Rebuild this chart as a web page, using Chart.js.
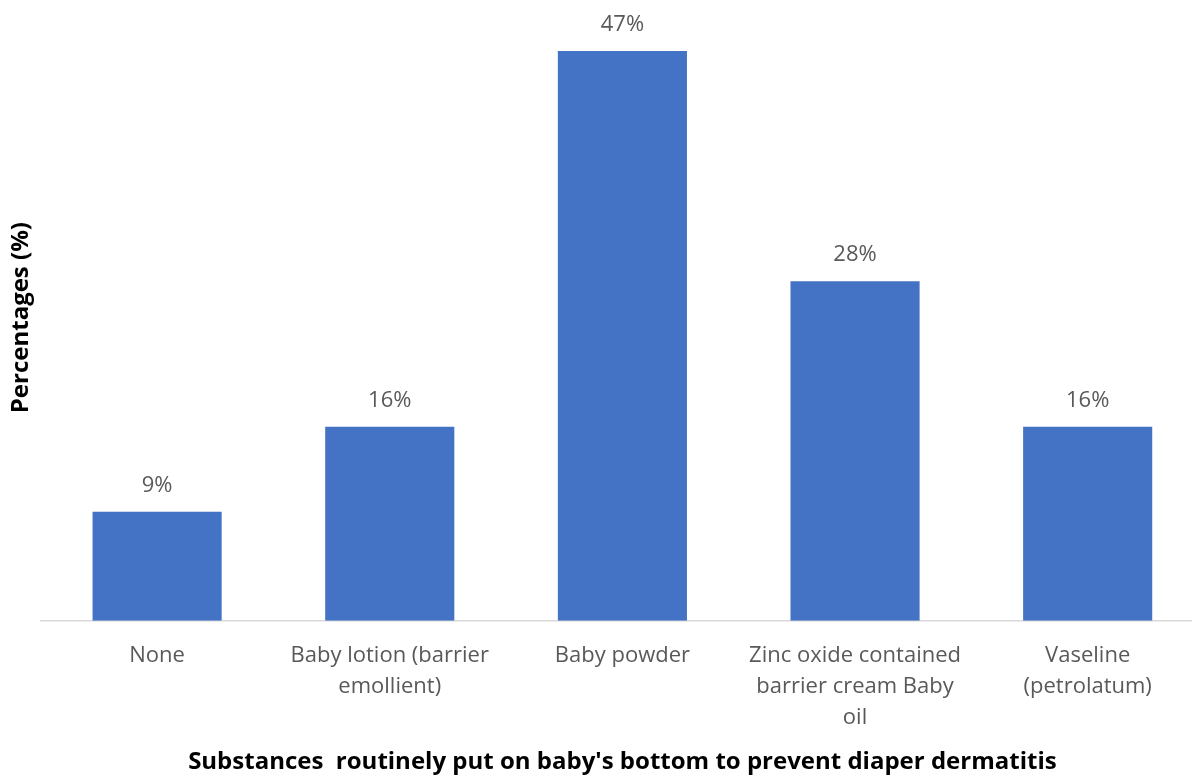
<!DOCTYPE html>
<html>
<head>
<meta charset="utf-8">
<script src="https://cdn.jsdelivr.net/npm/chart.js@4/dist/chart.umd.min.js"></script>
<style>
  html, body { margin: 0; padding: 0; background: #fff; overflow: hidden; }
  #wrap { width: 1204px; height: 778px; }
</style>
</head>
<body>
<div id="wrap"><canvas id="c" width="1204" height="778"></canvas></div>
<script>
const categories = [
  'None',
  ['Baby lotion (barrier', 'emollient)'],
  'Baby powder',
  ['Zinc oxide contained', 'barrier cream Baby', 'oil'],
  ['Vaseline', '(petrolatum)']
];
const percentages = [9, 16, 47, 28, 16];
const xTitle = "Substances  routinely put on baby's bottom to prevent diaper dermatitis";
const yTitle = 'Percentages (%)';

const FONT = "'Open Sans', 'Noto Sans', sans-serif";

// value labels printed just above each bar
const valueLabels = {
  id: 'valueLabels',
  afterDatasetsDraw(chart) {
    const ctx = chart.ctx;
    const meta = chart.getDatasetMeta(0);
    ctx.save();
    ctx.font = '22px ' + FONT;
    ctx.fillStyle = '#595959';
    ctx.textAlign = 'center';
    ctx.textBaseline = 'alphabetic';
    meta.data.forEach((bar, i) => {
      ctx.fillText(percentages[i] + '%', bar.x, bar.y - 20);
    });
    ctx.restore();
  }
};

new Chart(document.getElementById('c'), {
  type: 'bar',
  data: {
    labels: categories,
    datasets: [{
      data: percentages,
      backgroundColor: '#4472C4',
      borderWidth: 0,
      barPercentage: 0.555,
      categoryPercentage: 1.0
    }]
  },
  options: {
    responsive: false,
    animation: false,
    layout: { padding: { top: 14.5, left: 0, right: 0, bottom: 0 } },
    plugins: { legend: { display: false }, tooltip: { enabled: false } },
    scales: {
      x: {
        grid: { display: false, drawTicks: false },
        border: { display: true, color: '#d9d9d9', width: 1.5 },
        ticks: {
          color: '#595959',
          font: { family: FONT, size: 22, lineHeight: 1.4 },
          padding: 20,
          maxRotation: 0,
          autoSkip: false
        },
        title: {
          display: true,
          text: xTitle,
          color: '#000',
          font: { family: FONT, size: 24, weight: 'bold' },
          padding: { top: -5, bottom: 1 }
        }
      },
      y: {
        min: 0,
        max: 50,
        grid: { display: false, drawTicks: false },
        border: { display: false },
        ticks: { display: false },
        title: {
          display: true,
          text: yTitle,
          color: '#000',
          font: { family: FONT, size: 24, weight: 'bold' },
          padding: { top: 7, bottom: 5 }
        }
      }
    }
  },
  plugins: [valueLabels]
});
</script>
</body>
</html>
